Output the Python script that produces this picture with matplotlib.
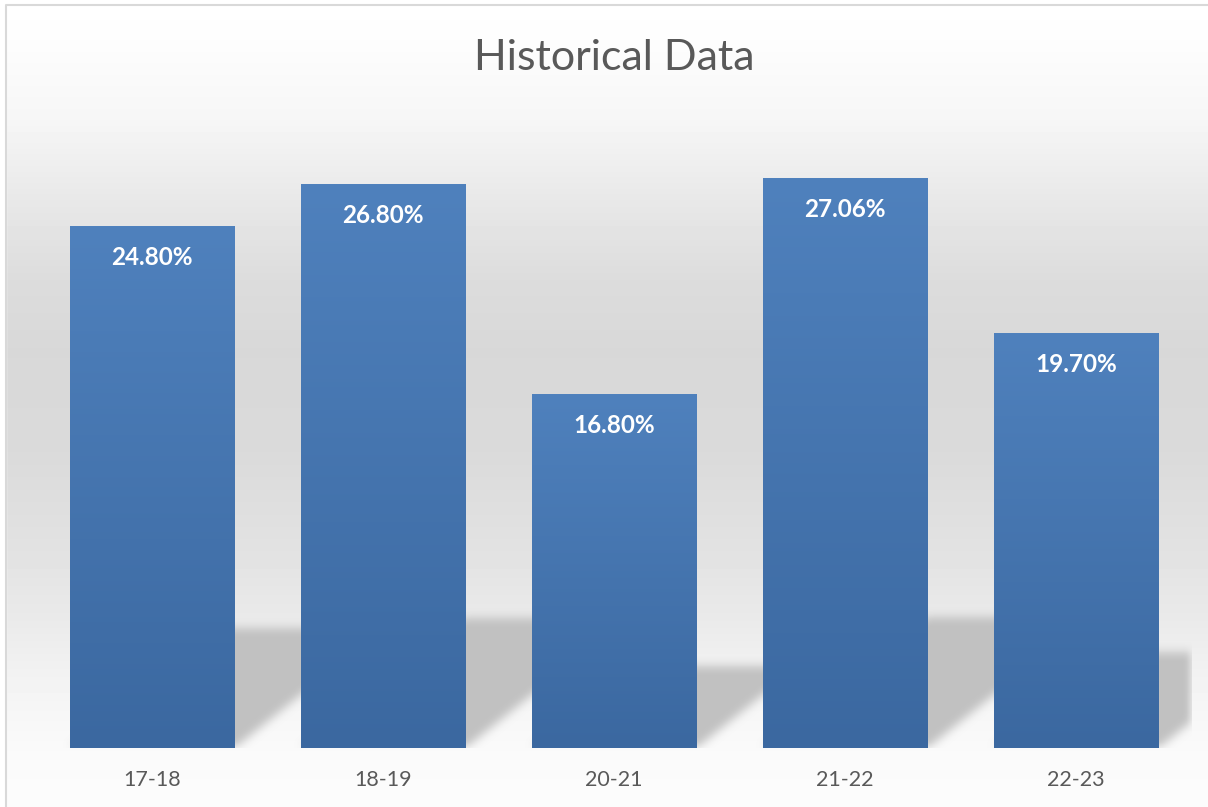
import matplotlib
matplotlib.use("Agg")
import matplotlib.pyplot as plt
import numpy as np
from matplotlib.colors import LinearSegmentedColormap

categories = ["17-18", "18-19", "20-21", "21-22", "22-23"]
values = [24.80, 26.80, 16.80, 27.06, 19.70]
labels = ["24.80%", "26.80%", "16.80%", "27.06%", "19.70%"]

W, H = 1208, 807
DPI = 100
YMAX = 30.0
BAR_W = 0.71
FONT = "Lato"


def box_blur(a, r):
    k = np.ones(2 * r + 1) / (2 * r + 1)
    a = np.apply_along_axis(lambda m: np.convolve(m, k, mode="same"), 0, a)
    a = np.apply_along_axis(lambda m: np.convolve(m, k, mode="same"), 1, a)
    return a


fig = plt.figure(figsize=(W / DPI, H / DPI), dpi=DPI)

# chart area background: vertical grey gradient + thin frame
bg = fig.add_axes([0, 0, 1, 1], zorder=0)
stops_y = [0, 40, 120, 200, 280, 350, 450, 550, 620, 660, 700, 750, 807]
stops_v = [255, 253, 246, 232, 220, 216, 218, 226, 234, 240, 245, 250, 252]
rows = np.interp(np.arange(H), stops_y, stops_v) / 255.0
bg.imshow(np.repeat(rows[:, None], 4, axis=1), cmap="gray", vmin=0, vmax=1,
          aspect="auto", extent=[0, W, H, 0], interpolation="nearest")
bg.axvspan(0, 6, color="white")
bg.plot([6, 6, W + 5], [H + 5, 5, 5], color="#d9d9d9", lw=1.5)
bg.set_xlim(0, W)
bg.set_ylim(H, 0)
bg.axis("off")

# plot area
aw, ah = 1155, 631
ax = fig.add_axes([36.5 / W, 1 - 748 / H, aw / W, ah / H], zorder=1)
ax.patch.set_alpha(0)
x = np.arange(len(categories))
ax.set_xlim(-0.5, len(categories) - 0.5)
ax.set_ylim(0, YMAX)
bars = ax.bar(x, values, width=BAR_W, color="none", zorder=3)

# soft perspective shadows cast to the right
mask = np.zeros((ah, aw))
yy = np.arange(ah)[:, None]
xx = np.arange(aw)[None, :]
for b in bars:
    left = (b.get_x() + 0.5) * aw / len(categories)
    right = left + b.get_width() * aw / len(categories)
    sh = 0.23 * b.get_height() * ah / YMAX
    shift = 1.25 * yy
    inside = (yy < sh) & (xx >= left + shift) & (xx <= right + shift)
    mask[inside] = 1.0
mask = box_blur(box_blur(mask, 5), 5)
shadow = np.zeros((ah, aw, 4))
shadow[..., :3] = 0.76
shadow[..., 3] = np.clip(mask, 0, 1)
ax.imshow(shadow, origin="lower", extent=[-0.5, len(categories) - 0.5, 0, YMAX],
          aspect="auto", zorder=1, interpolation="nearest")

# gradient-filled bars
bar_cmap = LinearSegmentedColormap.from_list("bar", ["#3b68a0", "#4f81bd"])
grad = np.linspace(0, 1, 256)[:, None]
for b in bars:
    x0 = b.get_x()
    ax.imshow(grad, cmap=bar_cmap, origin="lower", aspect="auto",
              extent=[x0, x0 + b.get_width(), 0, b.get_height()], zorder=2)

for xi, v, lab in zip(x, values, labels):
    ax.annotate(lab, (xi, v), xytext=(0, -31), textcoords="offset pixels",
                ha="center", va="center", color="white", fontweight="bold",
                fontsize=17.5, family=FONT, zorder=4)

ax.set_xlim(-0.5, len(categories) - 0.5)
ax.set_ylim(0, YMAX)
ax.set_xticks(x, categories)
ax.set_yticks([])
ax.tick_params(axis="x", length=0, pad=16, labelsize=15.5, labelcolor="#595959")
for lab in ax.get_xticklabels():
    lab.set_family(FONT)
for s in ax.spines.values():
    s.set_visible(False)

fig.text(614 / W, 1 - 58 / H, "Historical Data", ha="center", va="center",
         fontsize=31, color="#595959", family=FONT)

fig.savefig("out.png", dpi=DPI)
